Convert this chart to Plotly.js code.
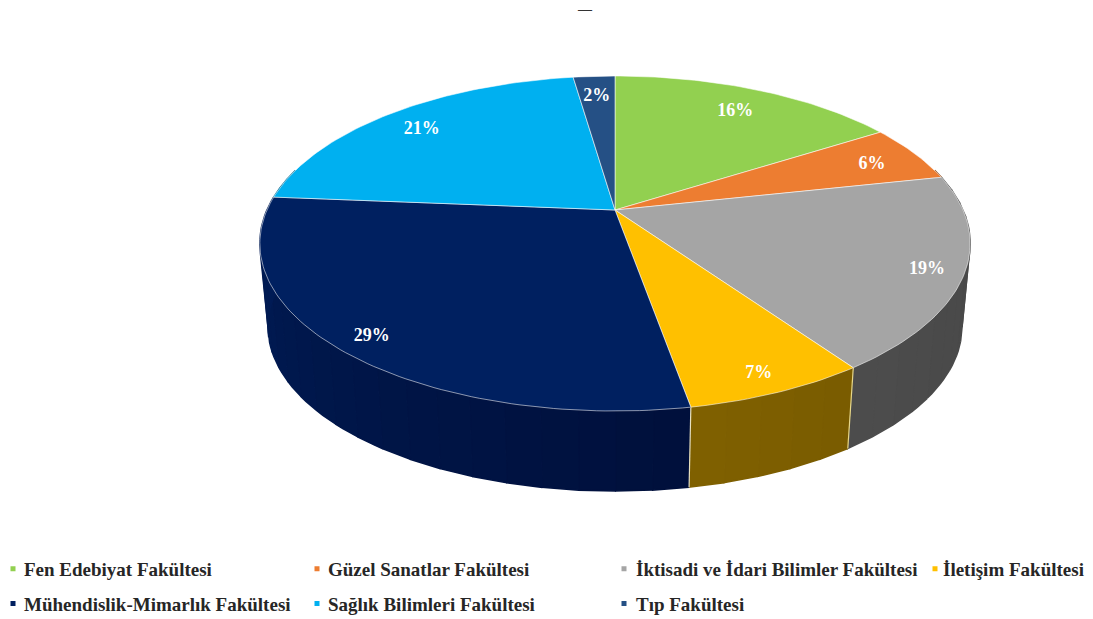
<!DOCTYPE html>
<html>
<head>
<meta charset="utf-8">
<script src="https://cdn.plot.ly/plotly-3.0.1.min.js"></script>
<style>
html,body{margin:0;padding:0;background:#fff}#chart{width:1093px;height:619px}
</style>
</head>
<body>
<div id="chart"></div>
<script>
// Data (share of each faculty, percent)
const categories = ["Fen Edebiyat Fakültesi","Güzel Sanatlar Fakültesi","İktisadi ve İdari Bilimler Fakültesi","İletişim Fakültesi","Mühendislik-Mimarlık Fakültesi","Sağlık Bilimleri Fakültesi","Tıp Fakültesi"];
const values = [16.0, 5.6, 18.7, 6.9, 29.1, 21.4, 2.3];
const colors = ["#92d050","#ed7d31","#a5a5a5","#ffc000","#002060","#00b0f0","#255085"];
const wallNear = ["#5a7f30","#94501f","#4c4c4c","#7f6000","#00103c","#006e96","#173252"];
const wallFar  = ["#5a7f30","#94501f","#474747","#7a5c00","#001c56","#006e96","#173252"];
const labelRadius = [0.82,0.85,0.90,0.90,0.90,0.85,0.85];
const legendSlot = ["legend","legend2","legend3","legend4","legend","legend2","legend3"];

// Projection of the tilted disc onto the axes
const view = {cx:615, cy:210, A:348, B:160.8, k:0.2, wallA:340, wallB:158, depth:83.5, labelDrop:3};
const project = (t, r, bottom) => {
  const u = r*Math.sin(t), v = r*Math.cos(t), d = 1 + view.k*v;
  return bottom
    ? [view.cx + view.wallA*u/d, view.cy + view.depth - view.wallB*v/d]
    : [view.cx + view.A*u/d, view.cy - view.B*v/d];
};
const total = values.reduce((a,b)=>a+b,0);
const starts = []; let acc = 0;
values.forEach(v => { starts.push(acc/total*2*Math.PI); acc += v; });
const ends = starts.map((s,i)=> s + values[i]/total*2*Math.PI);
const mix = (a,b,f) => {
  const p = c => [1,3,5].map(i=>parseInt(c.substr(i,2),16));
  const A = p(a), B = p(b);
  return "rgb(" + A.map((x,i)=>Math.round(x+(B[i]-x)*f)).join(",") + ")";
};
const traces = [];
// side walls: only the part facing the viewer
const frontA = 75*Math.PI/180, frontB = 285*Math.PI/180, strip = 5*Math.PI/180;
values.forEach((_,i) => {
  const a = Math.max(starts[i], frontA), b = Math.min(ends[i], frontB);
  if (a >= b) return;
  const n = Math.max(1, Math.ceil((b-a)/strip));
  for (let s=0; s<n; s++) {
    const t0 = a+(b-a)*s/n, t1 = a+(b-a)*(s+1)/n;
    const x=[], y=[];
    for (let j=0;j<=3;j++){ const p=project(t0+(t1-t0)*j/3,1,false); x.push(p[0]); y.push(p[1]); }
    for (let j=3;j>=0;j--){ const p=project(t0+(t1-t0)*j/3,1,true); x.push(p[0]); y.push(p[1]); }
    const f = s/Math.max(1,n-1);
    const col = i===4 ? mix(wallNear[i], wallFar[i], f) : mix(wallNear[i], wallFar[i], 1-f);
    traces.push({type:"scatter",mode:"lines",x,y,fill:"toself",fillcolor:col,line:{color:col,width:1.6},hoverinfo:"skip",showlegend:false});
  }
});
// bright seams between walls
values.forEach((_,i) => {
  if (i<2 || i>3) return;
  const t = ends[i], p = project(t,1,false), q = project(t,1,true);
  traces.push({type:"scatter",mode:"lines",x:[p[0],q[0]],y:[p[1],q[1]],line:{color:i===2?"#e8d88a":"#e6e0c0",width:1.2},hoverinfo:"skip",showlegend:false});
});
// top faces
values.forEach((_,i) => {
  const x=[view.cx], y=[view.cy], n=Math.ceil((ends[i]-starts[i])/0.02);
  for (let j=0;j<=n;j++){ const p=project(starts[i]+(ends[i]-starts[i])*j/n,1,false); x.push(p[0]); y.push(p[1]); }
  x.push(view.cx); y.push(view.cy);
  traces.push({type:"scatter",mode:"lines",x,y,fill:"toself",fillcolor:colors[i],
    line:{color:"rgba(255,255,255,0.55)",width:1},name:categories[i],
    text:categories[i]+": "+Math.round(values[i]/total*100)+"%",hoverinfo:"text",showlegend:false});
});
// percent labels
const lab = values.map((v,i)=>project((starts[i]+ends[i])/2,labelRadius[i],false));
traces.push({type:"scatter",mode:"text",x:lab.map(p=>p[0]),y:lab.map(p=>p[1]+view.labelDrop),
  text:values.map(v=>Math.round(v/total*100)+"%"),textposition:"middle center",
  textfont:{family:"Liberation Serif",size:18,color:"#ffffff",weight:700},hoverinfo:"skip",showlegend:false});
// legend entries
categories.forEach((c,i)=>traces.push({type:"scatter",mode:"markers",x:[null],y:[null],name:c,
  legend:legendSlot[i],legendgroup:"g"+i,
  marker:{symbol:"square",size:5,color:colors[i]},hoverinfo:"skip",showlegend:true}));

const legendBase = x => ({orientation:"v",x,xanchor:"left",y:0.1117,yanchor:"top",
  itemwidth:30,bgcolor:"rgba(0,0,0,0)",tracegroupgap:7,traceorder:"grouped",
  font:{family:"Liberation Serif",size:19,color:"#262626",weight:700}});

Plotly.newPlot("chart",traces,{
  width:1093,height:619,margin:{l:0,r:0,t:0,b:0,autoexpand:false},paper_bgcolor:"#fff",plot_bgcolor:"#fff",
  xaxis:{range:[0,1093],visible:false,fixedrange:true},
  yaxis:{range:[619,0],visible:false,fixedrange:true},
  showlegend:true,
  legend:legendBase(0),
  legend2:legendBase(288/1093),
  legend3:legendBase(596/1093),
  legend4:legendBase(903/1093),
  annotations:[{text:"—",x:585,y:9,xref:"x",yref:"y",showarrow:false,font:{family:"Liberation Serif",size:14,color:"#333",weight:700}}]
},{displayModeBar:false,responsive:false}).then(gd => {
  // tighten the marker-to-text gap of the legend entries, as in the reference
  const pointShift = {legend:-7, legend2:9, legend3:8, legend4:12};
  Object.keys(pointShift).forEach(k => {
    gd.querySelectorAll("." + k + " .legendpoints").forEach(e => { e.style.transform = "translateX(" + pointShift[k] + "px)"; });
  });
  gd.querySelectorAll(".legend .legendtext").forEach(e => { e.setAttribute("x", parseFloat(e.getAttribute("x")) - 16); });
});
</script>
</body>
</html>
